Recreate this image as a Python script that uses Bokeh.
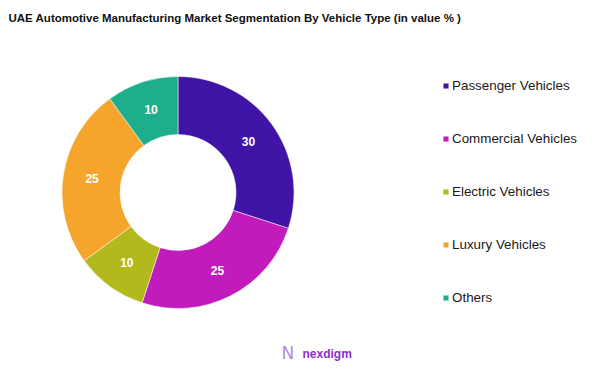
import math
from bokeh.plotting import figure
from bokeh.models import Range1d, Label, Legend, LegendItem, ColumnDataSource
from bokeh.embed import file_html
from bokeh.resources import INLINE

categories = ["Passenger Vehicles", "Commercial Vehicles", "Electric Vehicles", "Luxury Vehicles", "Others"]
values = [30, 25, 10, 25, 10]
colors = ["#4014a6", "#c11cbb", "#b3b81c", "#f5a42c", "#1fae8c"]
title_text = "UAE Automotive Manufacturing Market Segmentation By Vehicle Type (in value % )"

W, H = 602, 369
p = figure(width=W, height=H, output_backend="svg", toolbar_location=None,
           x_range=Range1d(0, W), y_range=Range1d(0, H), min_border=0,
           outline_line_color=None)
p.axis.visible = False
p.grid.visible = False
p.background_fill_color = "white"
p.border_fill_color = "white"

cx, cy = 177.5, 177.0
r_in, r_out = 58, 116
total = sum(values)
starts, ends, lx, ly, labels = [], [], [], [], []
cum = 0
for v in values:
    a0 = math.pi / 2 - 2 * math.pi * cum / total
    cum += v
    a1 = math.pi / 2 - 2 * math.pi * cum / total
    starts.append(a0)
    ends.append(a1)
    mid = (a0 + a1) / 2
    rm = (r_in + r_out) / 2
    lx.append(cx + rm * math.cos(mid))
    ly.append(cy + rm * math.sin(mid))
    labels.append(str(v))

src = ColumnDataSource(dict(cat=categories, val=values, color=colors, start=starts, end=ends,
                            lx=lx, ly=ly, label=labels))
wedges = p.annular_wedge(x=cx, y=cy, inner_radius=r_in, outer_radius=r_out,
                         start_angle="start", end_angle="end", direction="clock",
                         fill_color="color", line_color="white", line_width=0.5, source=src)
p.text(x="lx", y="ly", text="label", source=src, text_color="white",
       text_font_size="12px", text_font_style="bold", text_align="center",
       text_baseline="middle", text_font={"value": "Liberation Sans"})

items = [LegendItem(label=c, renderers=[wedges], index=i) for i, c in enumerate(categories)]
legend = Legend(items=items, location=(442, 64), orientation="vertical",
                glyph_width=7, glyph_height=7, label_standoff=3, spacing=38,
                label_text_font="Liberation Sans", label_text_font_size="13.4px",
                label_text_color="#1a1a1a", padding=0, margin=0,
                border_line_color=None, background_fill_alpha=0)
p.add_layout(legend, "center")

p.add_layout(Label(x=8, y=H - 17, x_units="screen", y_units="screen", text=title_text,
                   text_font="Liberation Sans", text_font_size="11.5px",
                   text_font_style="bold", text_baseline="middle", text_color="#111111"))

# logo
p.add_layout(Label(x=281, y=H - 352, x_units="screen", y_units="screen", text="N",
                   text_font="DejaVu Sans", text_font_size="17px", text_color="#b48ae0",
                   text_baseline="middle"))
p.add_layout(Label(x=302, y=H - 353, x_units="screen", y_units="screen", text="nexdigm",
                   text_font="Liberation Sans", text_font_size="12px", text_font_style="bold",
                   text_color="#8a2fc9", text_baseline="middle"))

open("out.html", "w").write(file_html(p, INLINE))
